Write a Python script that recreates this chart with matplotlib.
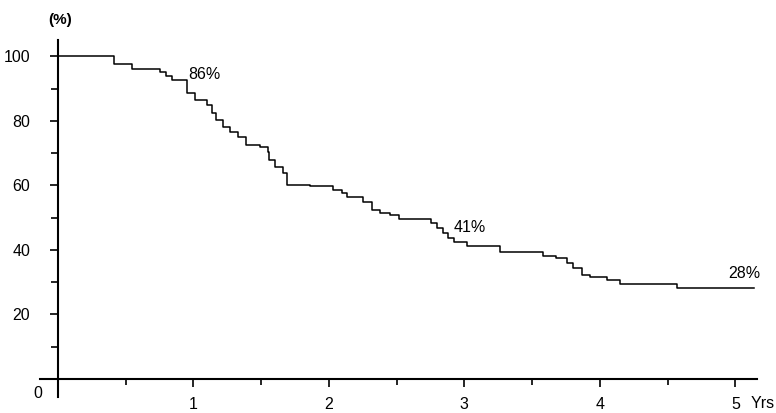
import matplotlib.pyplot as plt
from matplotlib.ticker import MultipleLocator

plt.rcParams['font.family'] = ['Liberation Sans', 'DejaVu Sans']

# survival curve (years, %)
years = [0.00, 0.41, 0.55, 0.75, 0.80, 0.84, 0.92, 0.95, 1.01, 1.10, 1.14, 1.17,
         1.22, 1.27, 1.33, 1.39, 1.49, 1.55, 1.56, 1.60, 1.66, 1.69, 1.86, 2.03,
         2.10, 2.13, 2.25, 2.32, 2.38, 2.45, 2.52, 2.75, 2.80, 2.84, 2.88, 2.92,
         3.02, 3.26, 3.58, 3.68, 3.76, 3.80, 3.87, 3.93, 4.05, 4.15, 4.49, 4.57,
         5.14]
survival = [100.0, 97.5, 96.2, 95.0, 94.0, 92.6, 92.6, 88.5, 86.4, 84.8, 82.3, 80.2,
            78.0, 76.5, 74.9, 72.4, 71.8, 70.3, 67.8, 65.6, 63.8, 60.0, 59.8, 58.5,
            57.6, 56.3, 54.8, 52.3, 51.4, 50.8, 49.5, 48.3, 46.7, 45.2, 43.6, 42.4,
            41.2, 39.3, 38.0, 37.5, 35.9, 34.4, 32.2, 31.6, 30.7, 29.4, 29.4, 28.2,
            28.2]

labels = ['86%', '41%', '28%']
label_x = [0.96, 2.92, 4.95]
label_y = [92.0, 44.5, 30.5]

fig = plt.figure(figsize=(7.76, 4.13), dpi=100)
ax = fig.add_axes([0.0515, 0.0387, 0.924, 0.864])

ax.step(years, survival, where='post', color='black', lw=1.1)

ax.set_xlim(-0.133, 5.16)
ax.set_ylim(-5.6, 105)

for s in ['top', 'right']:
    ax.spines[s].set_visible(False)
ax.spines['left'].set_position(('data', 0))
ax.spines['bottom'].set_position(('data', 0))
ax.spines['left'].set_linewidth(1.5)
ax.spines['bottom'].set_linewidth(1.5)

ax.set_xticks([1, 2, 3, 4, 5])
ax.xaxis.set_minor_locator(MultipleLocator(0.5))
ax.set_yticks([20, 40, 60, 80, 100])
ax.yaxis.set_minor_locator(MultipleLocator(10))
ax.tick_params(axis='both', which='both', direction='out', width=1.2, labelsize=11.5)
ax.tick_params(axis='x', which='major', length=6, pad=7)
ax.tick_params(axis='x', which='minor', length=4)
ax.tick_params(axis='y', which='major', length=6, pad=14)
ax.tick_params(axis='y', which='minor', length=5)
for lab in ax.get_yticklabels():
    lab.set_verticalalignment('center_baseline')

for t, xx, yy in zip(labels, label_x, label_y):
    ax.text(xx, yy, t, fontsize=11.5, ha='left', va='bottom')

fig.text(38 / 776, 1 - 393 / 413, '0', fontsize=11.5, ha='center', va='center')
fig.text(60 / 776, 1 - 20 / 413, '(%)', fontsize=11, fontweight='bold',
         ha='center', va='center')
fig.text(763 / 776, 1 - 403 / 413, 'Yrs', fontsize=11.5, ha='center', va='center')

plt.savefig('out.png', dpi=100)
